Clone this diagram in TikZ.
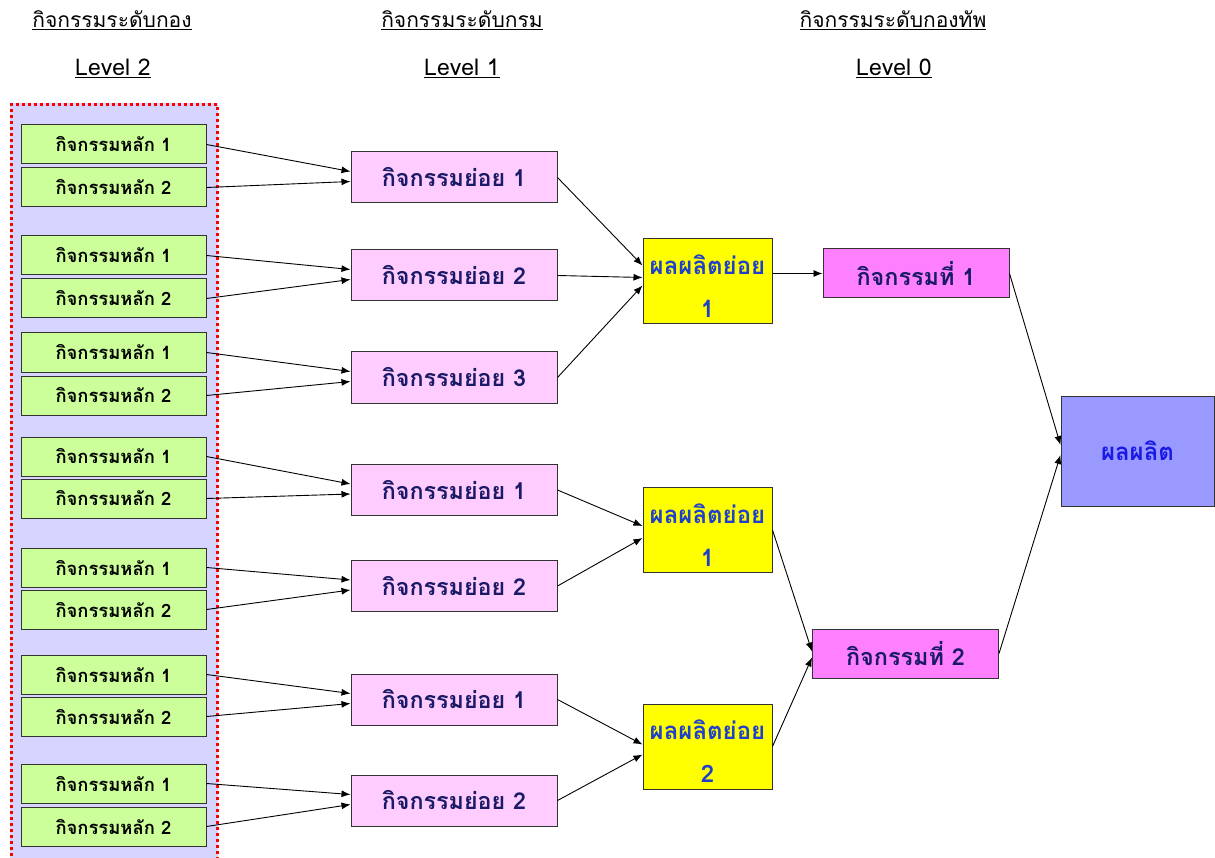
\documentclass[tikz,border=0pt]{standalone}
\usepackage{fontspec}
\setmainfont[Script=Thai]{Loma}
\usetikzlibrary{arrows.meta,calc}
\definecolor{bgl}{HTML}{D5D5FF}
\definecolor{gfill}{HTML}{CCFF99}
\definecolor{pfill}{HTML}{FFCCFF}
\definecolor{yfill}{HTML}{FFFF00}
\definecolor{mfill}{HTML}{FF80FF}
\definecolor{bfill}{HTML}{9999FF}
\definecolor{navy}{HTML}{1A1A66}
\definecolor{ytext}{HTML}{1F3FCC}
\definecolor{btext}{HTML}{1A1AE6}
\begin{document}
\begin{tikzpicture}[x=1pt,y=-1pt,
  box/.style={draw=black!80, line width=1pt, inner sep=0pt, font=\bfseries},
  gbox/.style={box, fill=gfill, minimum width=185pt, minimum height=39pt, font=\bfseries\fontsize{18.4}{20}\selectfont},
  pbox/.style={box, fill=pfill, minimum width=206pt, minimum height=51pt, text=navy, font=\bfseries\fontsize{23.3}{26}\selectfont},
  ybox/.style={box, fill=yfill, minimum width=129pt, minimum height=85pt},
  ylab/.style={text=ytext, align=center, inner sep=0pt, yshift=-5pt, font=\bfseries\fontsize{24}{43}\selectfont},
  mbox/.style={box, fill=mfill, minimum width=186pt, minimum height=49pt, text=navy, font=\bfseries\fontsize{23.4}{26}\selectfont},
  bbox/.style={box, fill=bfill, minimum width=153pt, minimum height=110pt, text=btext, font=\bfseries\fontsize{24}{26}\selectfont},
  head/.style={font=\fontsize{21}{23}\selectfont},
  lvl/.style={font=\fontsize{23}{25}\selectfont},
  arr/.style={-{Latex[length=9pt,width=7pt]}, line width=0.9pt}
]
\useasboundingbox (0,0) rectangle (1215,858);
% headings
\node[head] (h1) at (112,20) {\underline{กิจกรรมระดับกอง}};
\node[lvl] (h1l) at (113,68) {\underline{Level 2}};
\node[head] (h2) at (462,20) {\underline{กิจกรรมระดับกรม}};
\node[lvl] (h2l) at (462,68) {\underline{Level 1}};
\node[head] (h3) at (893,20) {\underline{กิจกรรมระดับกองทัพ}};
\node[lvl] (h3l) at (894,68) {\underline{Level 0}};
% background panel
\fill[bgl] (10,103) rectangle (218,862);
\draw[red, line width=3pt, dash pattern=on 3pt off 3pt] (11,862) -- (11,104.5) -- (217,104.5) -- (217,862);
% green boxes
\foreach \i/\ya/\yb in {1/144.5/187.5, 2/255.5/298.5, 3/352.5/395.5, 4/456.5/498.5, 5/567.5/609.5, 6/674.5/716.5, 7/783.5/826.5} {
  \node[gbox] (ga\i) at (113.5,\ya) {กิจกรรมหลัก 1};
  \node[gbox] (gb\i) at (113.5,\yb) {กิจกรรมหลัก 2};
}
% pink boxes
\node[pbox] (p1) at (454,177.5) {กิจกรรมย่อย 1};
\node[pbox] (p2) at (454,275.5) {กิจกรรมย่อย 2};
\node[pbox] (p3) at (454,377.5) {กิจกรรมย่อย 3};
\node[pbox] (p4) at (454,490) {กิจกรรมย่อย 1};
\node[pbox] (p5) at (454,586) {กิจกรรมย่อย 2};
\node[pbox] (p6) at (454,699.5) {กิจกรรมย่อย 1};
\node[pbox] (p7) at (454,800.5) {กิจกรรมย่อย 2};
% yellow
\node[ybox, label={[ylab]center:ผลผลิตย่อย\\1}] (y1) at (707.5,281.5) {};
\node[ybox, label={[ylab]center:ผลผลิตย่อย\\1}] (y2) at (707.5,530) {};
\node[ybox, label={[ylab]center:ผลผลิตย่อย\\2}] (y3) at (707.5,746.5) {};
% magenta
\node[mbox] (m1) at (916,273.5) {กิจกรรมที่ 1};
\node[mbox] (m2) at (905.5,653.5) {กิจกรรมที่ 2};
% result
\node[bbox] (r) at (1137.5,451) {ผลผลิต};
% arrows green -> pink
\foreach \i in {1,...,7} {
  \draw[arr] (ga\i.east) -- ([yshift=6pt]p\i.west);
  \draw[arr] (gb\i.east) -- ([yshift=-4pt]p\i.west);
}
% pink -> yellow
\draw[arr] (p1.east) -- ([yshift=16pt]y1.west);
\draw[arr] (p2.east) -- ([yshift=4pt]y1.west);
\draw[arr] (p3.east) -- ([yshift=-4pt]y1.west);
\draw[arr] (p4.east) -- ([yshift=4pt]y2.west);
\draw[arr] (p5.east) -- ([yshift=-8pt]y2.west);
\draw[arr] (p6.east) -- ([yshift=2pt]y3.west);
\draw[arr] (p7.east) -- ([yshift=-8pt]y3.west);
% yellow -> magenta
\draw[arr] (y1.east |- m1.west) -- (m1.west);
\draw[arr] (y2.east) -- ([yshift=2pt]m2.west);
\draw[arr] (y3.east) -- ([yshift=-4pt]m2.west);
% magenta -> result
\draw[arr] (m1.east) -- ([yshift=6pt]r.west);
\draw[arr] (m2.east) -- ([yshift=-4pt]r.west);
\end{tikzpicture}
\end{document}
